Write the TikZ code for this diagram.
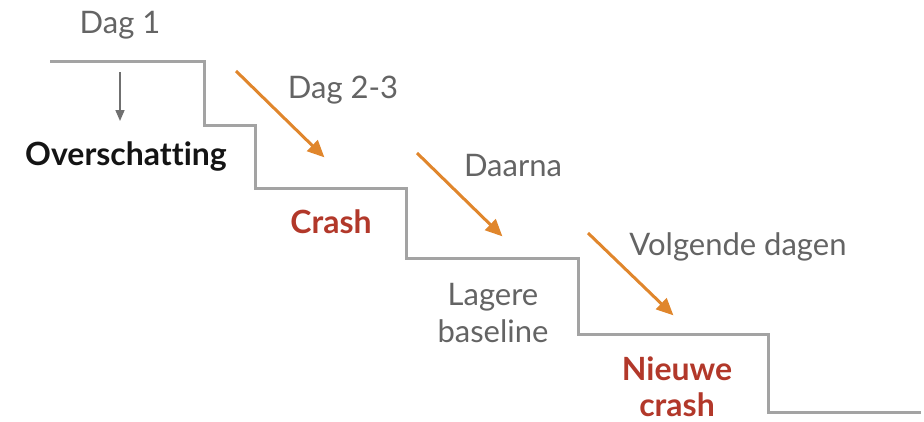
\documentclass[tikz,border=0pt]{standalone}
\usepackage{fontspec}
\setmainfont[Ligatures=CommonOff]{Lato}
\usetikzlibrary{arrows.meta}
\definecolor{stairgray}{HTML}{A3A3A3}
\definecolor{labelgray}{HTML}{646464}
\definecolor{arroworange}{HTML}{E0862C}
\definecolor{crashred}{HTML}{B2382A}
\definecolor{pointgray}{HTML}{707070}
\tikzset{
  stair/.style={draw=stairgray, line width=3pt, line join=miter},
  trend/.style={draw=arroworange, line width=3pt, -{Triangle[length=17pt,width=15pt]}, shorten >=-2pt},
  drop/.style={draw=pointgray, line width=1.6pt, -{Triangle[length=11pt,width=9pt]}},
  lbl/.style={anchor=base, inner sep=0pt, align=center, font=\fontsize{31}{37}\selectfont},
  plain/.style={lbl, text=labelgray},
  alarm/.style={lbl, text=crashred, font=\fontsize{32}{36}\selectfont\bfseries},
  strong/.style={lbl, text=black!92, font=\fontsize{32}{37}\selectfont\bfseries}
}
\begin{document}
\begin{tikzpicture}[x=1pt,y=-1pt]
  \useasboundingbox (0,0) rectangle (924,421);
  % staircase
  \draw[stair] (50,61) -| (204,125) -| (255,188) -| (406,258) -| (578,334) -| (768,412) -- (921,412);
  % labels (two-line labels sit on the baseline of their last line)
  \node[plain]  (d1)   at (120,33)  {Dag 1};
  \node[strong] (over) at (126,165) {Overschatting};
  \node[plain]  (d23)  at (343,98)  {Dag 2-3};
  \node[alarm]  (cr)   at (331,233) {Crash};
  \node[plain]  (dn)   at (513,176) {Daarna};
  \node[plain]  (lb)   at (493,342) {Lagere\\baseline};
  \node[plain]  (vd)   at (738,255) {Volgende dagen};
  \node[alarm]  (nc)   at (677,416) {Nieuwe\\crash};
  % arrow end points
  \coordinate (a0) at (120,72);   \coordinate (b0) at (120,121);
  \coordinate (a1) at (236,71);   \coordinate (b1) at (323,156);
  \coordinate (a2) at (417,153);  \coordinate (b2) at (501,235);
  \coordinate (a3) at (588,233);  \coordinate (b3) at (672,314);
  \draw[drop]  (a0) -- (b0);
  \draw[trend] (a1) -- (b1);
  \draw[trend] (a2) -- (b2);
  \draw[trend] (a3) -- (b3);
\end{tikzpicture}
\end{document}
